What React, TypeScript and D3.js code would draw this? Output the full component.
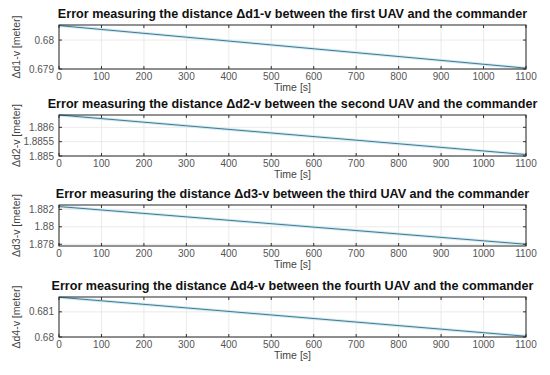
import React, { useRef, useEffect } from 'react';
import * as d3 from 'd3';

const TIME = [0, 1100];
const D1 = [0.68050, 0.67903];
const D2 = [1.88643, 1.88505];
const D3 = [1.88232, 1.87800];
const D4 = [0.68158, 0.68003];

const ORDINALS = ['first', 'second', 'third', 'fourth'];
const Y_DOMAINS: [number, number][] = [
    [0.679, 0.68052],
    [1.885, 1.88643],
    [1.8778, 1.8825],
    [0.68, 0.68159],
];
const Y_TICKS = [
    [0.679, 0.68],
    [1.885, 1.8855, 1.886],
    [1.878, 1.88, 1.882],
    [0.68, 0.681],
];
const X_TICKS = [0, 100, 200, 300, 400, 500, 600, 700, 800, 900, 1000, 1100];

const SERIES = [D1, D2, D3, D4];
const TOPS = [25, 115, 205, 297];
const BOTTOMS = [69, 156, 246, 337];

export default function App() {
    const svgRef = useRef<SVGSVGElement>(null);
    const width = 550;
    const height = 375;
    const left = 59;
    const right = 526;

    useEffect(() => {
        const svg = d3.select(svgRef.current);
        svg.selectAll('*').remove();
        svg.append('rect').attr('width', width).attr('height', height).attr('fill', '#fff');

        const xScale = d3.scaleLinear().domain([0, 1100]).range([left, right]);

        SERIES.forEach((vals, i) => {
            const top = TOPS[i];
            const bottom = BOTTOMS[i];
            const yScale = d3.scaleLinear().domain(Y_DOMAINS[i]).range([bottom, top]);
            const g = svg.append('g');

            g.append('rect')
                .attr('x', left).attr('y', top)
                .attr('width', right - left).attr('height', bottom - top)
                .attr('fill', '#fff');

            // grid
            g.selectAll('.gx').data(X_TICKS).enter().append('line')
                .attr('x1', d => xScale(d)).attr('x2', d => xScale(d))
                .attr('y1', top).attr('y2', bottom)
                .attr('stroke', '#e4e4e4').attr('stroke-width', 0.8);
            g.selectAll('.gy').data(Y_TICKS[i]).enter().append('line')
                .attr('x1', left).attr('x2', right)
                .attr('y1', d => yScale(d)).attr('y2', d => yScale(d))
                .attr('stroke', '#e4e4e4').attr('stroke-width', 0.8);

            // line
            const pts = TIME.map((t, k) => [t, vals[k]] as [number, number]);
            const line = d3.line<[number, number]>()
                .x(d => xScale(d[0]))
                .y(d => yScale(d[1]));
            g.append('path').datum(pts)
                .attr('fill', 'none').attr('stroke', '#cdebf4').attr('stroke-width', 3)
                .attr('d', line);
            g.append('path').datum(pts)
                .attr('fill', 'none').attr('stroke', '#3a6a85').attr('stroke-width', 0.9)
                .attr('d', line);

            // tick marks (inside, all sides)
            X_TICKS.forEach(t => {
                g.append('line').attr('x1', xScale(t)).attr('x2', xScale(t))
                    .attr('y1', bottom).attr('y2', bottom - 3).attr('stroke', '#333');
                g.append('line').attr('x1', xScale(t)).attr('x2', xScale(t))
                    .attr('y1', top).attr('y2', top + 3).attr('stroke', '#333');
            });
            Y_TICKS[i].forEach(t => {
                g.append('line').attr('x1', left).attr('x2', left + 3)
                    .attr('y1', yScale(t)).attr('y2', yScale(t)).attr('stroke', '#333');
                g.append('line').attr('x1', right).attr('x2', right - 3)
                    .attr('y1', yScale(t)).attr('y2', yScale(t)).attr('stroke', '#333');
            });

            g.append('rect')
                .attr('x', left).attr('y', top)
                .attr('width', right - left).attr('height', bottom - top)
                .attr('fill', 'none').attr('stroke', '#262626').attr('stroke-width', 1);

            // tick labels
            g.selectAll('.xl').data(X_TICKS).enter().append('text')
                .attr('x', d => xScale(d)).attr('y', bottom + 11)
                .attr('text-anchor', 'middle')
                .attr('font-family', 'Liberation Sans, Arial, sans-serif')
                .attr('font-size', 10).attr('fill', '#555')
                .text(d => d);
            g.selectAll('.yl').data(Y_TICKS[i]).enter().append('text')
                .attr('x', left - 5).attr('y', d => yScale(d) + 3.5)
                .attr('text-anchor', 'end')
                .attr('font-family', 'Liberation Sans, Arial, sans-serif')
                .attr('font-size', 10).attr('fill', '#555')
                .text(d => d);

            g.append('text')
                .attr('x', (left + right) / 2).attr('y', bottom + 22)
                .attr('text-anchor', 'middle')
                .attr('font-family', 'Liberation Sans, Arial, sans-serif')
                .attr('font-size', 10.5).attr('fill', '#444')
                .text('Time [s]');

            g.append('text')
                .attr('transform', `translate(20, ${(top + bottom) / 2}) rotate(-90)`)
                .attr('text-anchor', 'middle')
                .attr('font-family', 'Liberation Sans, Arial, sans-serif')
                .attr('font-size', 10.5).attr('fill', '#444')
                .text(`\u0394d${i + 1}-v [meter]`);

            g.append('text')
                .attr('x', (left + right) / 2).attr('y', top - 7)
                .attr('text-anchor', 'middle')
                .attr('font-family', 'Liberation Sans, Arial, sans-serif')
                .attr('font-size', 12.6).attr('font-weight', 'bold').attr('fill', '#111')
                .text(`Error measuring the distance \u0394d${i + 1}-v between the ${ORDINALS[i]} UAV and the commander`);
        });
    }, []);

    return (
        <svg
            ref={svgRef}
            width={width}
            height={height}
            style={{ position: 'absolute', left: 0, top: 0 }}
        />
    );
}
